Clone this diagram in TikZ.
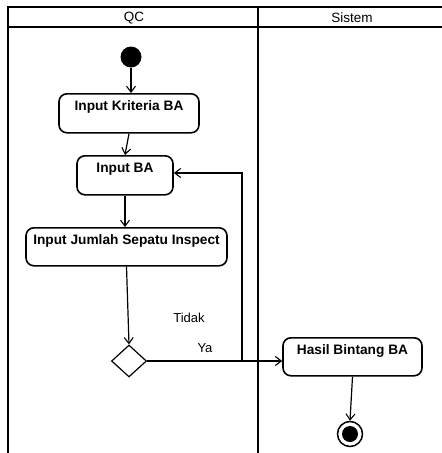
\documentclass[tikz,border=0pt]{standalone}
\usepackage{fontspec}
\setmainfont{Liberation Sans}
\usetikzlibrary{arrows.meta,shapes.geometric}
\begin{document}
\begin{tikzpicture}[x=1pt,y=-1pt,
  lane/.style={line width=1.8pt},
  act/.style={draw,line width=1.6pt,rounded corners=8pt,inner sep=0pt,anchor=north,
    text height=17pt,text depth=22pt,font=\fontsize{13.7}{16}\selectfont\bfseries},
  flow/.style={line width=1.2pt,-{Straight Barb[length=6pt,width=9pt,line width=1.1pt]}},
  lbl/.style={font=\fontsize{13}{15}\selectfont,inner sep=0pt},
  hdr/.style={font=\fontsize{13.5}{15}\selectfont,inner sep=0pt}]
\useasboundingbox (0,0) rectangle (442,453);
% swimlanes
\draw[lane] (8,453) -- (8,7) -- (442,7);
\draw[lane] (8,27) -- (442,27);
\draw[lane] (258,7) -- (258,453);
\node[hdr] (hqc) at (134,18) {QC};
\node[hdr] (hsis) at (352,18) {Sistem};
% nodes
\node[circle,fill=black,minimum size=21pt,inner sep=0pt] (start) at (131,57) {};
\node[act,minimum width=140pt] (k1) at (129,93) {Input Kriteria BA};
\node[act,minimum width=96pt] (ba) at (125,155) {Input BA};
\node[act,minimum width=201pt,text depth=21pt] (jml) at (126.5,227) {Input Jumlah Sepatu Inspect};
\node[draw,diamond,line width=1.2pt,minimum width=35pt,minimum height=32pt,inner sep=0pt] (d) at (129,361) {};
\node[act,minimum width=139pt,text depth=21pt] (hasil) at (352.5,337) {Hasil Bintang BA};
\node[circle,draw,line width=1.5pt,minimum size=25pt,inner sep=0pt] (end) at (350,434) {};
\node[circle,fill=black,minimum size=16pt,inner sep=0pt] (endin) at (350,434) {};
\coordinate (loop) at (242,173);
% flows
\draw[flow] (start) -- (start |- k1.north);
\draw[flow] (k1.south) -- (ba.north);
\draw[flow] (ba.south) -- (ba.south |- jml.north);
\draw[flow] (jml.south) -- (d.north);
\draw[flow] (d.east) -- (d.east -| hasil.west);
\draw[flow] (d.east) -| (loop) -- (loop -| ba.east);
\draw[flow] (hasil.south) -- (end.north);
% labels
\node[lbl] (tidak) at (189,318) {Tidak};
\node[lbl] (ya) at (205,348) {Ya};
\end{tikzpicture}
\end{document}
